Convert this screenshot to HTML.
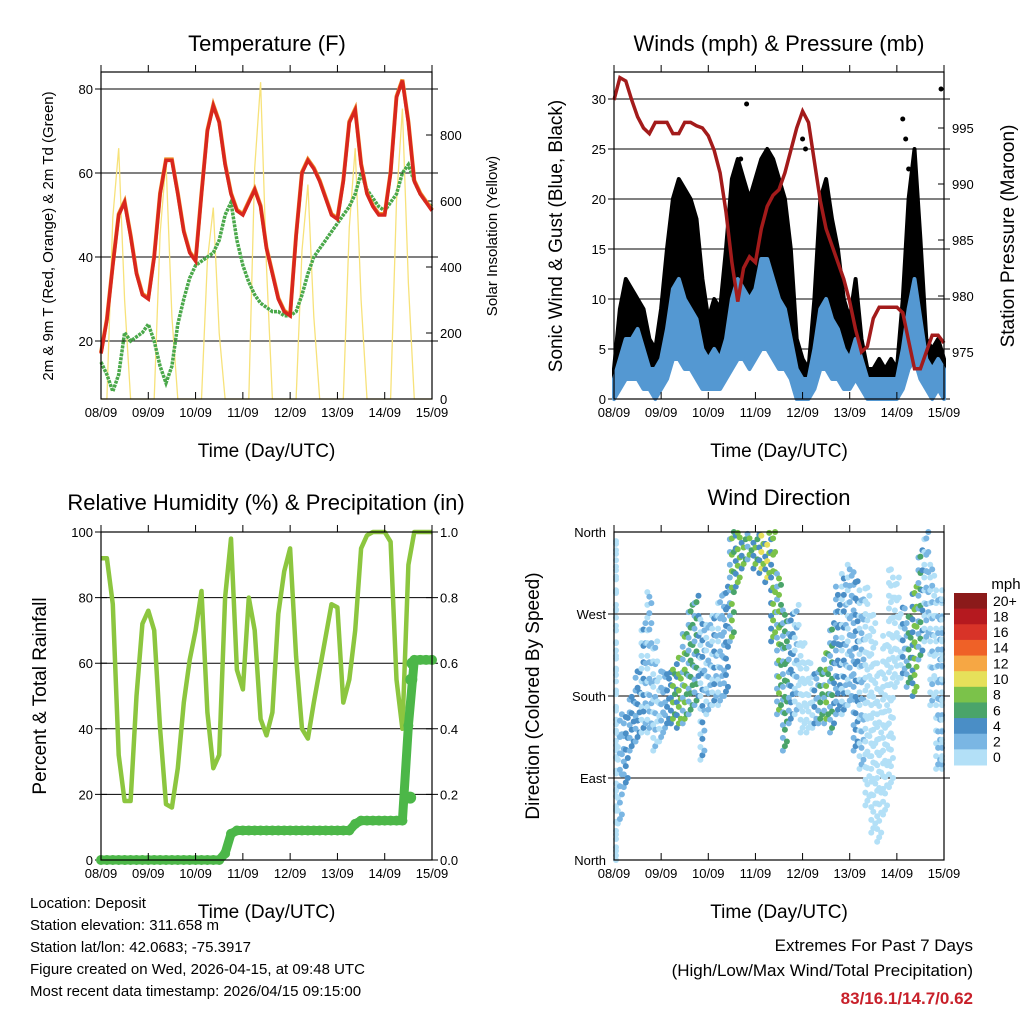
<!DOCTYPE html>
<html><head><meta charset="utf-8"><style>
html,body{margin:0;padding:0;background:#fff;}
svg{display:block;font-family:"Liberation Sans",Arial,sans-serif;}
</style></head><body>
<svg id="chart" width="1024" height="1024" viewBox="0 0 1024 1024"></svg>
<script>
// ---------- data (3-hourly samples, 08/09 00Z .. 15/09 00Z) ----------
const dayLabels = ["08/09","09/09","10/09","11/09","12/09","13/09","14/09","15/09"];
const tempF = [17,25,38,50,53,45,36,31,30,40,55,63,63,55,46,41,39,55,70,76,72,62,55,51,50,53,56,52,42,36,30,27,26,45,60,63,61,58,54,50,49,58,72,75,62,55,52,50,50,60,78,82,72,58,55,53,51];
const dewF = [15,12,8,12,22,20,21,22,24,20,14,10,14,24,30,35,38,39,40,41,44,50,53,44,38,34,31,29,28,27,27,26,26,27,31,36,40,42,44,46,48,50,52,55,60,56,54,52,51,53,55,60,62,58,55,53,52];
const solar = [0,0,550,760,300,0,0,0, 0,0,500,720,250,0,0,0, 0,0,420,580,200,0,0,0, 0,0,700,960,400,0,0,0, 0,0,450,650,250,0,0,0, 0,0,520,760,300,0,0,0, 0,0,600,880,350,0,0,0, 0];
const gustHi = [3,9,12,11,10,9,6,5, 9,15,20,22,21,20,18,12, 8,10,9,15,22,24,22,20, 22,24,25,24,22,20,15,6, 4,3,10,20,22,18,15,10, 8,12,6,3,3,4,3,4, 3,10,20,25,16,6,5,6, 4];
const gustLo = [1,4,5,5,5,4,3,2, 4,6,9,10,9,8,7,5, 3,4,4,6,9,11,10,9, 10,11,11,10,9,8,6,2, 1,1,4,8,9,7,6,4, 3,5,3,1,1,1,1,1, 1,4,8,10,6,2,2,2, 1];
const windHi = [2,4,6,6,7,5,3,3, 4,7,11,12,10,9,8,5, 4,5,4,6,10,12,11,10, 11,14,14,12,10,9,6,3, 2,2,5,9,10,8,7,5, 4,6,4,2,2,2,2,2, 2,5,9,12,8,4,3,4, 3];
const windLo = [0,1,2,2,2,1,1,0, 1,2,4,4,3,3,2,1, 1,1,1,2,3,4,4,3, 4,5,5,4,3,3,2,0, 0,0,1,3,3,2,2,1, 1,2,1,0,0,0,0,0, 0,1,3,4,2,1,0,1, 0];
const gustOutliers = [[22.5,29.5],[32,26],[32.5,25],[55.5,31],[49,28],[49.5,26],[21.5,24],[50,23]];
const pressure = [997.5,999.5,999.2,997.5,996,995,994.5,995.5,995.5,995.5,994.5,994.5,995.5,995.5,995.2,995,994.3,993,991,987.5,983,979.5,982.5,983.5,983,986,988,989,989.5,991,993,995,996.5,995.5,992,988.5,986,984.5,983,981.5,979.5,977,975,975.5,978,979,979,979,979,978.5,976,973.5,973.5,975,976.5,976.5,975.8];
const rh = [92,92,78,32,18,18,50,72,76,70,40,17,16,28,48,61,70,82,45,28,32,80,98,58,52,80,70,43,38,45,75,88,95,62,40,37,48,58,68,78,77,48,55,70,95,99,100,100,100,97,55,40,90,100,100,100,100];
const precip = [0,0,0,0,0,0,0,0,0,0,0,0,0,0,0,0,0,0,0,0,0,0.02,0.08,0.09,0.09,0.09,0.09,0.09,0.09,0.09,0.09,0.09,0.09,0.09,0.09,0.09,0.09,0.09,0.09,0.09,0.09,0.09,0.09,0.11,0.12,0.12,0.12,0.12,0.12,0.12,0.12,0.12,0.41,0.61,0.61,0.61,0.61];
const precipJumps = [[52.3,0.19],[52.5,0.55],[52.7,0.6]];
const dirCenter = [180,100,120,150,170,200,220,180, 170,175,180,185,200,220,230,190, 210,220,230,240,300,330,340,345, 340,340,335,300,240,200,210,220, 190,180,175,180,190,200,230,240, 250,220,200,180,150,120,150,200, 250,240,230,240,280,300,250,200, 200];
const dirSpread = [180,60,40,30,40,60,80,60, 40,30,30,40,50,60,60,80, 50,50,60,60,60,30,20,15, 20,25,30,60,80,80,60,60, 50,40,30,30,40,60,70,80, 80,100,100,120,120,100,100,120, 60,40,40,60,60,60,80,100, 100];
const speedBins = ["0","2","4","6","8","10","12","14","16","18","20+"];
const speedColors = ["#b3e0f7","#7ab6e3","#4a8ec6","#4aa46a","#7bc24a","#e6e05a","#f6a744","#ef6127","#d83328","#b5191f","#8b1a1a"];

// ---------- helpers ----------
const NS = "http://www.w3.org/2000/svg";
const svg = document.getElementById("chart");
function mk(tag, attrs, name, parent) {
  const el = document.createElementNS(NS, tag);
  for (const k in attrs) el.setAttribute(k, attrs[k]);
  
  
  (parent || svg).appendChild(el);
  return el;
}
function txt(x, y, s, size, name, opts) {
  opts = opts || {};
  const t = mk("text", {x:x, y:y, "font-size":size, "text-anchor":opts.anchor||"middle", fill:opts.fill||"#000", "font-weight":opts.weight||"normal"}, name);
  if (opts.rot) t.setAttribute("transform", "rotate(" + opts.rot + " " + x + " " + y + ")");
  t.textContent = s;
  return t;
}
const N = 56;
function panel(x0, y0, x1, y1, name) {
  mk("rect", {x:x0, y:y0, width:x1-x0, height:y1-y0, fill:"none", stroke:"#000", "stroke-width":1.2}, name + "-frame");
  for (let d = 0; d <= 7; d++) {
    const x = x0 + d*(x1-x0)/7;
    mk("line", {x1:x, y1:y1, x2:x, y2:y1-7, stroke:"#000", "stroke-width":1}, name + "-x-tick");
    mk("line", {x1:x, y1:y0, x2:x, y2:y0-7, stroke:"#000", "stroke-width":1}, name + "-x-tick-top");
    txt(x, y1+18, dayLabels[d], 13, name + "-x-tick-label");
  }
  txt((x0+x1)/2, y1+58, "Time (Day/UTC)", 19, name + "-x-axis-title");
}
function yAxis(x0, x1, vals, labels, yf, name, side, grid) {
  vals.forEach((v, i) => {
    const y = yf(v);
    if (grid) mk("line", {x1:x0-6, y1:y, x2:x1+6, y2:y, stroke:"#000", "stroke-width":1}, name + "-gridline");
    if (side === "left") {
      mk("line", {x1:x0, y1:y, x2:x0+6, y2:y, stroke:"#000"}, name + "-tick");
      txt(x0-8, y+5, labels[i], 13, name + "-tick-label", {anchor:"end"});
    } else {
      mk("line", {x1:x1, y1:y, x2:x1-6, y2:y, stroke:"#000"}, name + "-tick");
      txt(x1+8, y+5, labels[i], 13, name + "-tick-label", {anchor:"start"});
    }
  });
}
function pathOf(arr, xf, yf) {
  return arr.map((v, i) => (i ? "L" : "M") + xf(i).toFixed(1) + "," + yf(v).toFixed(1)).join("");
}

// ---------- Panel 1: Temperature ----------
const p1 = {x0:101, x1:432, y0:72, y1:399};
const xT = i => p1.x0 + i*(p1.x1-p1.x0)/N;
const yT = v => 341 - (v-20)*4.2;
const yS = v => 399 - v*0.33;
txt(267, 51, "Temperature (F)", 22, "temperature-title");
yAxis(p1.x0, p1.x1, [20,40,60,80], ["20","40","60","80"], yT, "temp-left-axis", "left", true);
yAxis(p1.x0, p1.x1, [0,200,400,600,800], ["0","200","400","600","800"], yS, "solar-right-axis", "right", false);
mk("path", {d:pathOf(solar, xT, yS), fill:"none", stroke:"#f7e27a", "stroke-width":1.3}, "solar-insolation-line");
mk("path", {d:pathOf(dewF, xT, yT), fill:"none", stroke:"#4aa84a", "stroke-width":3.5, "stroke-dasharray":"3 1"}, "dewpoint-line");
mk("path", {d:pathOf(tempF, xT, v => yT(v)-1), fill:"none", stroke:"#f0902a", "stroke-width":4}, "temp-9m-line");
mk("path", {d:pathOf(tempF, xT, yT), fill:"none", stroke:"#d8261e", "stroke-width":3.5}, "temp-2m-line");
panel(p1.x0, p1.y0, p1.x1, p1.y1, "temp-panel");
txt(53, 236, "2m & 9m T (Red, Orange) & 2m Td (Green)", 15, "temp-y-axis-title", {rot:-90});
txt(497, 236, "Solar Insolation (Yellow)", 15, "solar-y-axis-title", {rot:-90});

// ---------- Panel 2: Winds & Pressure ----------
const p2 = {x0:614, x1:944, y0:72, y1:399};
const xW = i => p2.x0 + i*(p2.x1-p2.x0)/N;
const yW = v => 399 - v*10;
const yP = v => 352 - (v-975)*11.2;
txt(779, 51, "Winds (mph) & Pressure (mb)", 22, "winds-title");
yAxis(p2.x0, p2.x1, [0,5,10,15,20,25,30], ["0","5","10","15","20","25","30"], yW, "wind-left-axis", "left", true);
yAxis(p2.x0, p2.x1, [975,980,985,990,995], ["975","980","985","990","995"], yP, "pressure-right-axis", "right", false);
function band(lo, hi, color, name) {
  let d = pathOf(hi, xW, yW);
  for (let i = lo.length-1; i >= 0; i--) d += "L" + xW(i).toFixed(1) + "," + yW(lo[i]).toFixed(1);
  mk("path", {d:d+"Z", fill:color, stroke:color, "stroke-width":4, "stroke-linejoin":"round"}, name);
}
band(gustLo, gustHi, "#000", "gust-dots-band");
gustOutliers.forEach(p => {
  const c = mk("circle", {cx:xW(p[0]), cy:yW(p[1]), r:2.5, fill:"#000"}, "gust-outlier-point");
});
band(windLo, windHi, "#5498d2", "sonic-wind-band");
mk("path", {d:pathOf(pressure, xW, yP), fill:"none", stroke:"#a31b1b", "stroke-width":3.5}, "pressure-line");
panel(p2.x0, p2.y0, p2.x1, p2.y1, "winds-panel");
txt(562, 236, "Sonic Wind & Gust (Blue, Black)", 19, "wind-y-axis-title", {rot:-90});
txt(1014, 236, "Station Pressure (Maroon)", 19, "pressure-y-axis-title", {rot:-90});

// ---------- Panel 3: RH & Precip ----------
const p3 = {x0:101, x1:432, y0:532, y1:860};
const yR = v => 860 - v*3.28;
const yPr = v => 860 - v*328;
txt(266, 510, "Relative Humidity (%) & Precipitation (in)", 22, "rh-title");
yAxis(p3.x0, p3.x1, [0,20,40,60,80,100], ["0","20","40","60","80","100"], yR, "rh-left-axis", "left", true);
yAxis(p3.x0, p3.x1, [0,0.2,0.4,0.6,0.8,1.0], ["0.0","0.2","0.4","0.6","0.8","1.0"], yPr, "precip-right-axis", "right", false);
mk("path", {d:pathOf(rh, xT, yR), fill:"none", stroke:"#8cc63f", "stroke-width":4.5, "stroke-linejoin":"round"}, "rh-line");
mk("path", {d:pathOf(precip, xT, yPr), fill:"none", stroke:"#4cb748", "stroke-width":9, "stroke-linejoin":"round"}, "precip-line");
precip.forEach((v, i) => {
  const c = mk("circle", {cx:xT(i), cy:yPr(v), r:5, fill:"#4cb748"}, "precip-point");
});
precipJumps.forEach(p => {
  const c = mk("circle", {cx:xT(p[0]), cy:yPr(p[1]), r:6, fill:"#4cb748"}, "precip-jump-point");
});
panel(p3.x0, p3.y0, p3.x1, p3.y1, "rh-panel");
txt(46, 696, "Percent & Total Rainfall", 19, "rh-y-axis-title", {rot:-90});

// ---------- Panel 4: Wind Direction ----------
const p4 = {x0:614, x1:944, y0:532, y1:860};
const yD = d => 860 - d*(328/360);
txt(779, 505, "Wind Direction", 22, "direction-title");
yAxis(p4.x0, p4.x1, [0,90,180,270,360], ["North","East","South","West","North"], yD, "direction-left-axis", "left", false);
[90,180,270].forEach(d => {
  mk("line", {x1:p4.x0-6, y1:yD(d), x2:p4.x1+6, y2:yD(d), stroke:"#000", "stroke-width":1}, "direction-gridline");
});
function colorFor(s) { return speedColors[Math.max(0, Math.min(10, Math.floor(s/2)))]; }
for (let i = 0; i <= N; i++) {
  const offs = [-2, 0, 2];
  offs.forEach((o, k) => {
    const s = k === 1 ? windHi[i]*0.8 : (k === 0 ? windLo[i] : (windLo[i]+windHi[i])/2);
    const lo = Math.max(0, dirCenter[i] - dirSpread[i]);
    const hi = Math.min(360, dirCenter[i] + dirSpread[i]);
    const step = 14 + k*4;
    for (let d = lo + k*5; d <= hi; d += step) {
      const xc = Math.max(p4.x0+2, Math.min(p4.x1-2, xW(i) + o));
      const c = mk("circle", {cx:xc, cy:yD(d), r:3, fill:colorFor(s)}, "direction-point");
    }
  });
}
panel(p4.x0, p4.y0, p4.x1, p4.y1, "direction-panel");
txt(539, 696, "Direction (Colored By Speed)", 19, "direction-y-axis-title", {rot:-90});

// colorbar
txt(1006, 589, "mph", 15, "colorbar-title");
const cbTop = 593, cbH = 172/11;
for (let k = 0; k < 11; k++) {
  const idx = 10 - k;
  mk("rect", {x:954, y:cbTop + k*cbH, width:33, height:cbH+0.5, fill:speedColors[idx]}, "colorbar-box");
  txt(993, cbTop + k*cbH + cbH/2 + 5, speedBins[idx], 14, "colorbar-label", {anchor:"start"});
}
</script>
<svg width="1024" height="1024" style="position:absolute;left:0;top:0;pointer-events:none">
<g font-family="Liberation Sans, Arial, sans-serif" font-size="15" fill="#000">
<text x="30" y="908">Location: Deposit</text>
<text x="30" y="930">Station elevation: 311.658 m</text>
<text x="30" y="952">Station lat/lon: 42.0683; -75.3917</text>
<text x="30" y="974">Figure created on Wed, 2026-04-15, at 09:48 UTC</text>
<text x="30" y="996">Most recent data timestamp: 2026/04/15 09:15:00</text>
<text x="973" y="951" text-anchor="end" font-size="17">Extremes For Past 7 Days</text>
<text x="973" y="976" text-anchor="end" font-size="17">(High/Low/Max Wind/Total Precipitation)</text>
<text x="973" y="1004" text-anchor="end" font-size="17" font-weight="bold" fill="#c8202a">83/16.1/14.7/0.62</text>
</g>
</svg>
</body></html>
